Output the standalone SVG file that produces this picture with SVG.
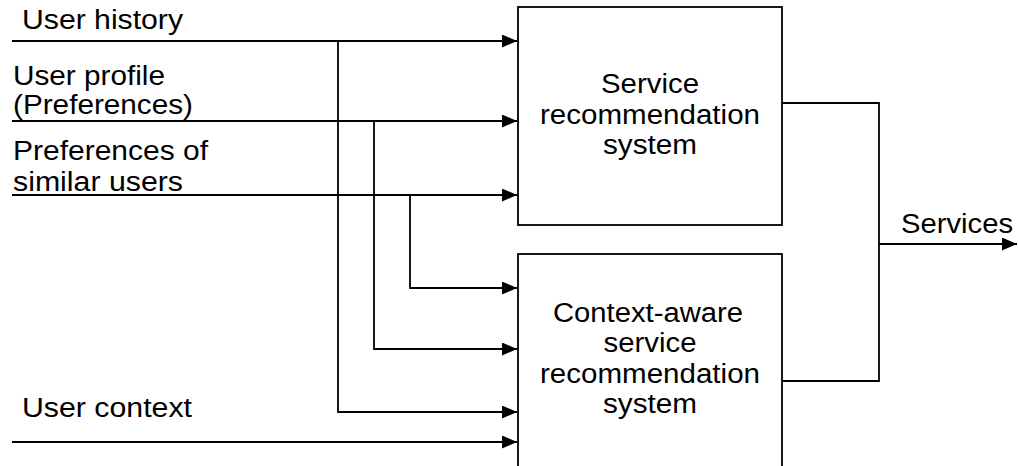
<svg xmlns="http://www.w3.org/2000/svg" width="1018" height="466" viewBox="0 0 1018 466">
<style>
.box{fill:#fff;stroke:#000;stroke-width:1.8}
.ln{fill:none;stroke:#000;stroke-width:1.8}
.t{font-family:"Liberation Sans",Arial,sans-serif;font-size:27px;fill:#000}
.c{text-anchor:middle}
</style>
<defs>
<marker id="ah" markerUnits="userSpaceOnUse" markerWidth="16" markerHeight="13" refX="15" refY="6.5" orient="auto">
<path d="M0,0 L15,6.5 L0,13 z" fill="#000"/>
</marker>
</defs>
<rect width="1018" height="466" fill="#fff"/>
<g id="connectors">
<path class="ln" d="M12,41 H517" marker-end="url(#ah)"/>
<path class="ln" d="M12,121 H517" marker-end="url(#ah)"/>
<path class="ln" d="M12,195 H517" marker-end="url(#ah)"/>
<path class="ln" d="M338,41 V412 H517" marker-end="url(#ah)"/>
<path class="ln" d="M374,121 V349 H517" marker-end="url(#ah)"/>
<path class="ln" d="M410,195 V288 H517" marker-end="url(#ah)"/>
<path class="ln" d="M12,442 H517" marker-end="url(#ah)"/>
<path class="ln" d="M782,103 H879 V381 H782"/>
<path class="ln" d="M879,244 H1017" marker-end="url(#ah)"/>
</g>
<g id="input-labels">
<text class="t" x="22" y="29" textLength="161" lengthAdjust="spacingAndGlyphs">User history</text>
<text class="t" x="13" y="85" textLength="152" lengthAdjust="spacingAndGlyphs">User profile</text>
<text class="t" x="13" y="114" textLength="180" lengthAdjust="spacingAndGlyphs">(Preferences)</text>
<text class="t" x="13" y="160" textLength="195" lengthAdjust="spacingAndGlyphs">Preferences of</text>
<text class="t" x="13" y="191" textLength="170" lengthAdjust="spacingAndGlyphs">similar users</text>
<text class="t" x="22" y="417" textLength="170" lengthAdjust="spacingAndGlyphs">User context</text>
<text class="t" x="901" y="233" textLength="112" lengthAdjust="spacingAndGlyphs">Services</text>
</g>
<g id="service-recommendation-system">
<rect class="box" x="518" y="7" width="264" height="218"/>
<text class="t c" x="650" y="93" textLength="98" lengthAdjust="spacingAndGlyphs">Service</text>
<text class="t c" x="650" y="124" textLength="220" lengthAdjust="spacingAndGlyphs">recommendation</text>
<text class="t c" x="650" y="154" textLength="94" lengthAdjust="spacingAndGlyphs">system</text>
</g>
<g id="context-aware-service-recommendation-system">
<rect class="box" x="518" y="254" width="264" height="230"/>
<text class="t c" x="648" y="322" textLength="190" lengthAdjust="spacingAndGlyphs">Context-aware</text>
<text class="t c" x="650" y="352" textLength="93" lengthAdjust="spacingAndGlyphs">service</text>
<text class="t c" x="650" y="383" textLength="220" lengthAdjust="spacingAndGlyphs">recommendation</text>
<text class="t c" x="650" y="413" textLength="94" lengthAdjust="spacingAndGlyphs">system</text>
</g>
</svg>
